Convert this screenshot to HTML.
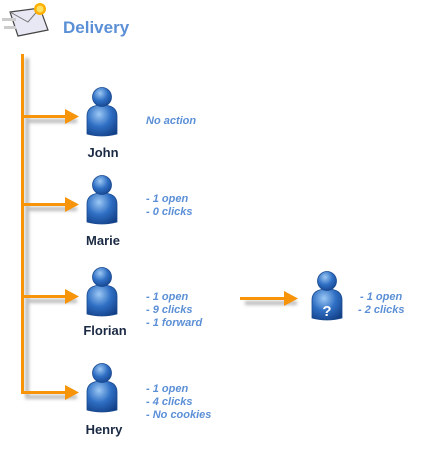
<!DOCTYPE html>
<html><head><style>
body{margin:0;background:#fff;width:441px;height:449px;overflow:hidden}
</style></head><body>
<svg width="441" height="449" xmlns="http://www.w3.org/2000/svg" font-family="Liberation Sans, sans-serif">
<defs>
<radialGradient id="g" cx="0.4" cy="0.3" r="0.8">
<stop offset="0" stop-color="#9cc8f4"/><stop offset="0.5" stop-color="#2f6fc4"/><stop offset="1" stop-color="#123f86"/>
</radialGradient>
<filter id="b"><feGaussianBlur stdDeviation="1.5"/></filter>
<g id="p">
<path d="M-15,18 L-15,0 Q-15,-11 0,-11 Q15,-11 15,0 L15,18 Q0,22 -15,18Z" fill="url(#g)" stroke="#1a4a90" stroke-width="0.8"/>
<circle cx="0" cy="-19" r="9.5" fill="url(#g)" stroke="#1a4a90" stroke-width="0.8"/>
</g>
</defs>
<!-- envelope -->
<path d="M10,12 L40,8 L48,30 L18,36 Z" fill="#e8e8f4" stroke="#444" stroke-width="1.2"/>
<path d="M10,12 L28,22 L40,8" fill="none" stroke="#777"/>
<rect x="2" y="18" width="14" height="3" fill="#ccc"/><rect x="4" y="26" width="12" height="3" fill="#ccc"/>
<circle cx="40" cy="9" r="6" fill="#ffb000"/><circle cx="40" cy="9" r="3.5" fill="#ffe060"/>
<text x="63" y="33" font-size="17" font-weight="bold" fill="#5b8fd6">Delivery</text>
<!-- shadows -->
<g fill="#bbb" filter="url(#b)">
<rect x="25" y="58" width="4" height="340"/>
<rect x="25" y="119" width="52" height="4"/><rect x="25" y="207" width="52" height="4"/><rect x="25" y="299" width="52" height="4"/><rect x="25" y="395" width="52" height="4"/><rect x="245" y="301" width="52" height="4"/>
</g>
<rect x="21" y="54" width="3" height="340" fill="#f7940a"/>
<g fill="#f7940a">
<rect x="21" y="115" width="46" height="3"/><path d="M65,109 L79,116.5 L65,124Z"/>
<rect x="21" y="203" width="46" height="3"/><path d="M65,197 L79,204.5 L65,212Z"/>
<rect x="21" y="295" width="46" height="3"/><path d="M65,289 L79,296.5 L65,304Z"/>
<rect x="21" y="391" width="46" height="3"/><path d="M65,385 L79,392.5 L65,400Z"/>
<rect x="240" y="297" width="46" height="3"/><path d="M284,291 L298,298.5 L284,306Z"/>
</g>
<use href="#p" x="102" y="116"/>
<use href="#p" x="102" y="204"/>
<use href="#p" x="102" y="296"/>
<use href="#p" x="102" y="392"/>
<use href="#p" x="327" y="300"/>
<text x="327" y="316" font-size="15" font-weight="bold" fill="#fff" text-anchor="middle">?</text>
<g font-size="13" font-weight="bold" fill="#1b2a44" text-anchor="middle">
<text x="103" y="157">John</text><text x="103" y="245">Marie</text><text x="105" y="335">Florian</text><text x="104" y="434">Henry</text>
</g>
<g font-size="11" font-style="italic" font-weight="bold" fill="#5b8fd6">
<text x="146" y="124">No action</text>
<text x="146" y="202">- 1 open</text><text x="146" y="215">- 0 clicks</text>
<text x="146" y="300">- 1 open</text><text x="146" y="313">- 9 clicks</text><text x="146" y="326">- 1 forward</text>
<text x="360" y="300">- 1 open</text><text x="358" y="313">- 2 clicks</text>
<text x="146" y="392">- 1 open</text><text x="146" y="405">- 4 clicks</text><text x="146" y="418">- No cookies</text>
</g>
</svg>
</body></html>
